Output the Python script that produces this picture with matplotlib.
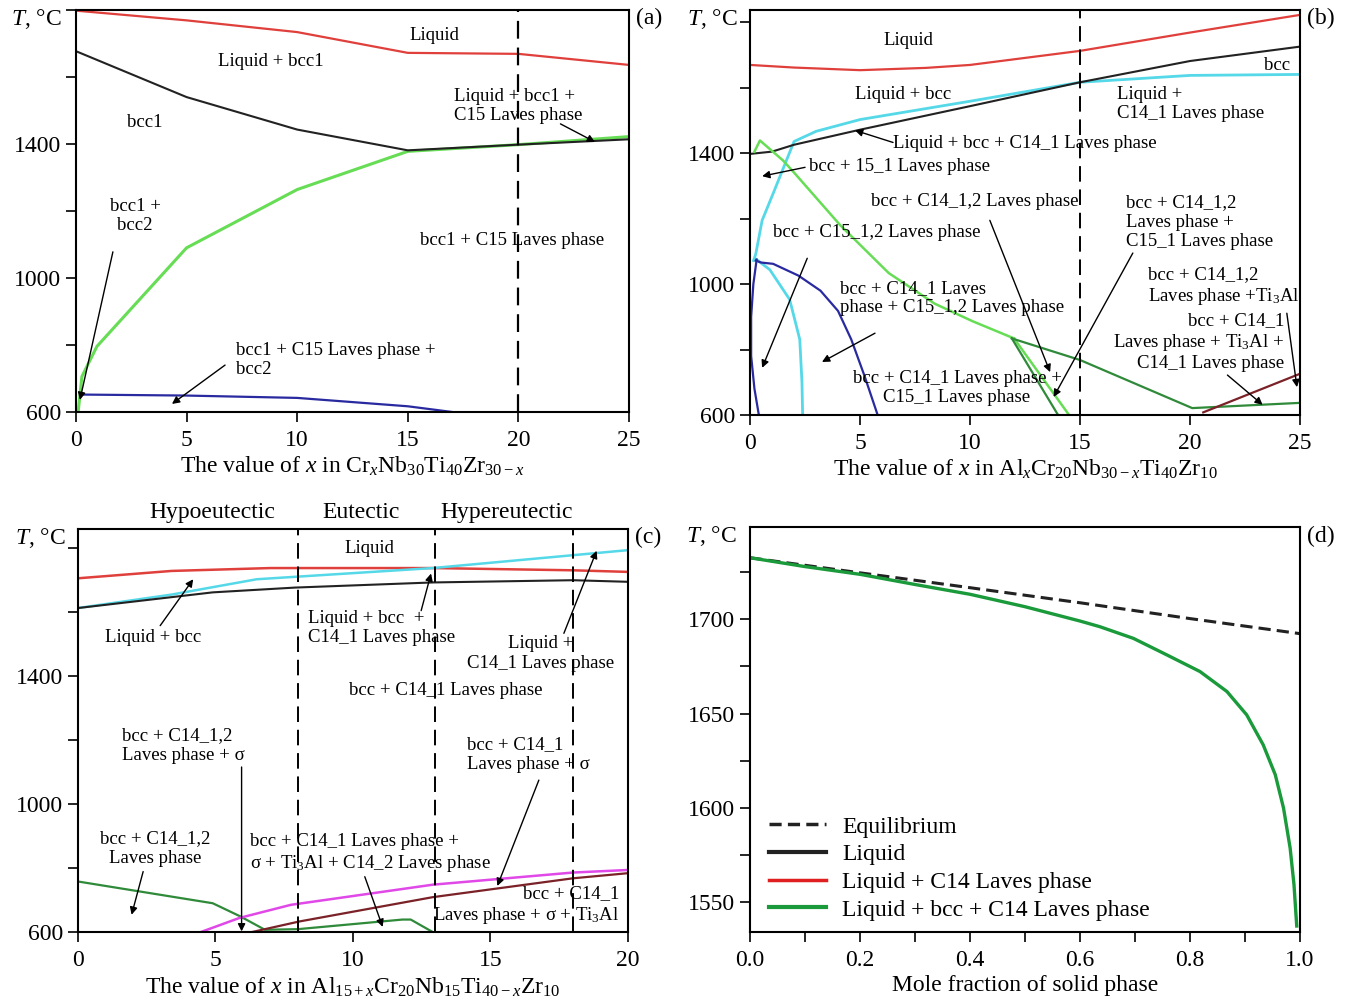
# Phase diagrams (a)-(c) and Scheil solidification (d)

import numpy as np
import matplotlib.pyplot as plt
from matplotlib.ticker import MultipleLocator, FuncFormatter
from matplotlib.lines import Line2D

plt.rcParams['font.family'] = 'Liberation Serif'
plt.rcParams['mathtext.fontset'] = 'custom'
plt.rcParams['mathtext.rm'] = 'Liberation Serif'
plt.rcParams['mathtext.it'] = 'Liberation Serif:italic'

# ---- datos (a): CrxNb30Ti40Zr30-x ----
a_red_x = [0, 5, 10, 15, 20, 25]
a_red_t = [1798, 1769, 1734, 1672, 1669, 1636]
a_black_x = [0, 5, 10, 15, 20, 25]
a_black_t = [1677, 1540, 1443, 1381, 1398, 1414]
a_green_x = [0.1, 0.27, 0.95, 5, 10, 15, 20, 25]
a_green_t = [600, 706, 796, 1090, 1264, 1378, 1398, 1422]
a_blue_x = [0.2, 5, 10, 15, 17]
a_blue_t = [652, 649, 642, 617, 600]

# ---- datos (b): AlxCr20Nb30-xTi40Zr10 ----
b_red_x = [0, 2, 5, 8, 10, 15, 20, 25]
b_red_t = [1670, 1662, 1654, 1661, 1670, 1713, 1769, 1823]
b_black_x = [0, 1, 2, 5, 10, 15, 20, 25]
b_black_t = [1398, 1405, 1426, 1472, 1544, 1617, 1682, 1726]
b_cyan1_x = [0.16, 0.26, 0.55, 1.05, 1.54, 2.0, 3, 5, 10, 15, 20, 25]
b_cyan1_t = [1072, 1092, 1195, 1277, 1359, 1436, 1467, 1503, 1559, 1617, 1638, 1641]
b_cyan2_x = [0.26, 0.9, 1.8, 2.26, 2.36, 2.39]
b_cyan2_t = [1077, 1044, 953, 831, 700, 600]
b_blue1_x = [0.3, 0.15, 0.05, 0.05, 0.2, 0.4]
b_blue1_t = [1075, 1000, 900, 780, 680, 600]
b_blue2_x = [0.26, 0.5, 1.05, 2.2, 3.2, 4.0, 4.6, 5.2, 5.8]
b_blue2_t = [1072, 1066, 1062, 1026, 980, 918, 831, 720, 600]
b_green_x = [0.2, 0.45, 1.5, 2.04, 4.1, 6.3, 8.4, 10.1, 12.0]
b_green_t = [1405, 1439, 1378, 1338, 1180, 1034, 940, 887, 834]
b_dgreen_x = [11.9, 15, 20.1, 25]
b_dgreen_t = [834, 768, 621, 637]
b_green2_x = [12.0, 14.5]
b_green2_t = [834, 600]
b_dgreen2_x = [11.9, 14.0]
b_dgreen2_t = [834, 600]
b_brown_x = [20.6, 25]
b_brown_t = [608, 726]

# ---- datos (c): Al15+xCr20Nb15Ti40-xZr10 ----
c_red_x = [0, 3.4, 7, 12.9, 18, 20]
c_red_t = [1706, 1729, 1738, 1738, 1731, 1726]
c_cyan_x = [0, 3.4, 6.5, 12.9, 20]
c_cyan_t = [1613, 1655, 1703, 1738, 1794]
c_black_x = [0, 4.9, 7.9, 12.9, 18, 20]
c_black_t = [1613, 1662, 1677, 1693, 1700, 1695]
c_green_x = [0, 4.9, 5.9, 6.8, 8.0, 11.8, 12.1, 12.9]
c_green_t = [758, 690, 649, 607, 609, 639, 639, 600]
c_magenta_x = [4.47, 5.87, 7.74, 12.9, 18, 20]
c_magenta_t = [600, 644, 685, 748, 786, 794]
c_brown_x = [6.33, 8.05, 12.9, 18, 20]
c_brown_t = [600, 633, 709, 768, 784]
c_lineas = [8, 13, 18]

# ---- datos (d): fraccion solida ----
d_frac = [0, 0.1, 0.2, 0.3, 0.4, 0.5, 0.6, 0.636, 0.697, 0.758, 0.818,
          0.867, 0.903, 0.933, 0.955, 0.970, 0.982, 0.989, 0.994]
d_scheil = [1732.7, 1728, 1723.9, 1718.5, 1713.3, 1706.7, 1699.1, 1696.1,
            1689.9, 1681.1, 1672.3, 1661.7, 1649.3, 1633.4, 1617.5, 1599.8,
            1578.6, 1559.2, 1537.2]
d_eq_frac = [0, 0.2, 0.4, 0.6, 0.8, 1.0]
d_eq = [1732.7, 1724.7, 1716.8, 1708.8, 1700.4, 1692.4]

ROJO = '#e0403c'
NEGRO = '#222222'
VERDE = '#66dd55'
VERDE_OSC = '#2f8a3a'
AZUL = '#2a2aa0'
CIAN = '#55d8e8'
MAGENTA = '#e048e8'
CAFE = '#7a2228'

FS_TXT = 13.5
FS_TICK = 17

fig = plt.figure(figsize=(13.49, 9.98), dpi=100)
ax_a = fig.add_axes([0.0563, 0.5872, 0.410, 0.4028])
ax_b = fig.add_axes([0.5560, 0.5842, 0.4077, 0.4058])
ax_c = fig.add_axes([0.0578, 0.0661, 0.4077, 0.4038])
ax_d = fig.add_axes([0.5560, 0.0661, 0.4077, 0.4058])


def estilo(ax, etiqueta, tx):
    for s in ax.spines.values():
        s.set_linewidth(1.5)
    ax.tick_params(direction='out', length=7, width=1.2, labelsize=FS_TICK,
                   top=False, right=False)
    ax.tick_params(axis='x', pad=6)
    ax.text(tx, 0.978, '$T$, °C', transform=ax.transAxes, ha='right',
            va='center', fontsize=FS_TICK)
    ax.text(1.037, 0.978, etiqueta, transform=ax.transAxes, ha='center',
            va='center', fontsize=FS_TICK)


def ejes_temp(ax):
    ax.yaxis.set_major_locator(MultipleLocator(200))
    ax.yaxis.set_major_formatter(FuncFormatter(
        lambda v, p: f'{v:.0f}' if round(v) in (600, 1000, 1400) else ''))
    ax.xaxis.set_major_locator(MultipleLocator(5))


def flecha(ax, cola, punta):
    ax.annotate('', xy=punta, xytext=cola,
                arrowprops=dict(arrowstyle='-|>', color='k', lw=1.0,
                                mutation_scale=11, shrinkA=0, shrinkB=0))


def texto(ax, x, y, s, ha='center'):
    ax.text(x, y, s, ha=ha, va='center', multialignment=ha,
            fontsize=FS_TXT)


# ---------------- (a) ----------------
ax = ax_a
ax.plot(a_red_x, a_red_t, color=ROJO, lw=1.6)
ax.plot(a_green_x, a_green_t, color=VERDE, lw=2.2)
ax.plot(a_black_x, a_black_t, color=NEGRO, lw=1.5)
ax.plot(a_blue_x, a_blue_t, color=AZUL, lw=1.6)
ax.axvline(20, color='k', ls=(0, (8, 4)), lw=1.6)
ax.set_xlim(0, 25)
ax.set_ylim(600, 1800)
ejes_temp(ax)
ax.set_xlabel('The value of $x$ in Cr$_x$Nb$_{30}$Ti$_{40}$Zr$_{30-x}$',
              fontsize=FS_TICK, labelpad=3)
estilo(ax, '(a)', -0.025)
texto(ax, 16.2, 1725, 'Liquid')
texto(ax, 8.8, 1645, 'Liquid + bcc1')
texto(ax, 3.1, 1463, 'bcc1')
texto(ax, 2.67, 1185, 'bcc1 +\nbcc2')
texto(ax, 17.1, 1513, 'Liquid + bcc1 +\nC15 Laves phase', ha='left')
texto(ax, 19.7, 1113, 'bcc1 + C15 Laves phase')
texto(ax, 7.23, 755, 'bcc1 + C15 Laves phase +\nbcc2', ha='left')
flecha(ax, (1.67, 1078), (0.18, 636))
flecha(ax, (6.74, 740), (4.34, 624))
flecha(ax, (21.9, 1460), (23.46, 1406))

# ---------------- (b) ----------------
ax = ax_b
ax.plot(b_red_x, b_red_t, color=ROJO, lw=1.6)
ax.plot(b_cyan1_x, b_cyan1_t, color=CIAN, lw=2.0)
ax.plot(b_cyan2_x, b_cyan2_t, color=CIAN, lw=2.0)
ax.plot(b_black_x, b_black_t, color=NEGRO, lw=1.5)
ax.plot(b_blue1_x, b_blue1_t, color=AZUL, lw=1.6)
ax.plot(b_blue2_x, b_blue2_t, color=AZUL, lw=1.6)
ax.plot(b_green_x, b_green_t, color=VERDE, lw=1.8)
ax.plot(b_green2_x, b_green2_t, color=VERDE, lw=1.8)
ax.plot(b_dgreen_x, b_dgreen_t, color=VERDE_OSC, lw=1.6)
ax.plot(b_dgreen2_x, b_dgreen2_t, color=VERDE_OSC, lw=1.6)
ax.plot(b_brown_x, b_brown_t, color=CAFE, lw=1.6)
ax.axvline(15, color='k', ls=(0, (8, 4)), lw=1.4)
ax.set_xlim(0, 25)
ax.set_ylim(600, 1838)
ejes_temp(ax)
ax.set_xlabel('The value of $x$ in Al$_x$Cr$_{20}$Nb$_{30-x}$Ti$_{40}$Zr$_{10}$',
              fontsize=FS_TICK, labelpad=3)
estilo(ax, '(b)', -0.022)
texto(ax, 7.2, 1745, 'Liquid')
texto(ax, 23.95, 1669, 'bcc')
texto(ax, 6.95, 1580, 'Liquid + bcc')
texto(ax, 16.7, 1550, 'Liquid +\nC14_1 Laves phase', ha='left')
texto(ax, 6.5, 1430, 'Liquid + bcc + C14_1 Laves phase', ha='left')
texto(ax, 2.68, 1360, 'bcc + 15_1 Laves phase', ha='left')
texto(ax, 5.5, 1253, 'bcc + C14_1,2 Laves phase', ha='left')
texto(ax, 1.05, 1159, 'bcc + C15_1,2 Laves phase', ha='left')
texto(ax, 4.1, 957, 'bcc + C14_1 Laves\nphase + C15_1,2 Laves phase', ha='left')
texto(ax, 9.41, 682, 'bcc + C14_1 Laves phase +\nC15_1 Laves phase')
texto(ax, 17.1, 1189, 'bcc + C14_1,2\nLaves phase +\nC15_1 Laves phase', ha='left')
texto(ax, 18.1, 992, 'bcc + C14_1,2\nLaves phase +Ti$_3$Al', ha='left')
texto(ax, 24.27, 823, 'bcc + C14_1\nLaves phase + Ti$_3$Al +\nC14_1 Laves phase',
      ha='right')
flecha(ax, (6.5, 1433), (4.77, 1470))
flecha(ax, (2.5, 1357), (0.55, 1330))
flecha(ax, (10.9, 1195), (13.64, 731))
flecha(ax, (2.6, 1079), (0.55, 744))
flecha(ax, (5.68, 850), (3.27, 762))
flecha(ax, (17.4, 1095), (13.8, 655))
flecha(ax, (24.4, 911), (24.86, 685))
flecha(ax, (21.7, 722), (23.3, 631))

# ---------------- (c) ----------------
ax = ax_c
ax.plot(c_red_x, c_red_t, color=ROJO, lw=1.8)
ax.plot(c_cyan_x, c_cyan_t, color=CIAN, lw=1.8)
ax.plot(c_black_x, c_black_t, color=NEGRO, lw=1.5)
ax.plot(c_green_x, c_green_t, color=VERDE_OSC, lw=1.6)
ax.plot(c_magenta_x, c_magenta_t, color=MAGENTA, lw=1.8)
ax.plot(c_brown_x, c_brown_t, color=CAFE, lw=1.6)
for xv in c_lineas:
    ax.axvline(xv, color='k', ls=(0, (8, 4)), lw=1.4)
ax.set_xlim(0, 20)
ax.set_ylim(600, 1860)
ejes_temp(ax)
ax.set_xlabel('The value of $x$ in Al$_{15+x}$Cr$_{20}$Nb$_{15}$Ti$_{40-x}$Zr$_{10}$',
              fontsize=FS_TICK, labelpad=3)
estilo(ax, '(c)', -0.022)
for xv, s in zip([4.9, 10.3, 15.6], ['Hypoeutectic', 'Eutectic', 'Hypereutectic']):
    ax.text(xv, 1912, s, ha='center', va='center', fontsize=FS_TICK,
            clip_on=False)
texto(ax, 10.6, 1800, 'Liquid')
texto(ax, 2.73, 1522, 'Liquid + bcc')
texto(ax, 8.36, 1551, 'Liquid + bcc  +\nC14_1 Laves phase', ha='left')
texto(ax, 16.84, 1470, 'Liquid +\nC14_1 Laves phase')
texto(ax, 13.38, 1355, 'bcc + C14_1 Laves phase')
texto(ax, 1.59, 1184, 'bcc + C14_1,2\nLaves phase + σ', ha='left')
texto(ax, 14.16, 1156, 'bcc + C14_1\nLaves phase + σ', ha='left')
texto(ax, 2.8, 862, 'bcc + C14_1,2\nLaves phase')
texto(ax, 6.26, 846, 'bcc + C14_1 Laves phase +\nσ + Ti$_3$Al + C14_2 Laves phase',
      ha='left')
texto(ax, 19.67, 684, 'bcc + C14_1\nLaves phase + σ + Ti$_3$Al', ha='right')
flecha(ax, (2.99, 1558), (4.19, 1703))
flecha(ax, (12.48, 1605), (12.84, 1721))
flecha(ax, (17.67, 1534), (18.86, 1792))
flecha(ax, (5.95, 1116), (5.95, 602))
flecha(ax, (16.76, 1075), (15.25, 744))
flecha(ax, (2.37, 789), (1.95, 654))
flecha(ax, (10.43, 773), (11.08, 616))

# ---------------- (d) ----------------
ax = ax_d
ax.plot(d_eq_frac, d_eq, color=NEGRO, ls=(0, (4, 2)), lw=2.2)
ax.plot(d_frac, d_scheil, color='#1a9a3a', lw=2.4)
ax.set_xlim(0, 1)
ax.set_ylim(1534, 1749)
ax.xaxis.set_major_locator(MultipleLocator(0.1))
ax.xaxis.set_major_formatter(FuncFormatter(
    lambda v, p: f'{v:.1f}' if round(v * 10) % 2 == 0 else ''))
ax.yaxis.set_major_locator(MultipleLocator(25))
ax.yaxis.set_major_formatter(FuncFormatter(
    lambda v, p: f'{v:.0f}' if round(v) % 50 == 0 else ''))
ax.set_xlabel('Mole fraction of solid phase', fontsize=FS_TICK, labelpad=3)
estilo(ax, '(d)', -0.024)
manejadores = [
    Line2D([], [], color=NEGRO, ls=(0, (3.5, 1.8)), lw=2.5),
    Line2D([], [], color=NEGRO, lw=3),
    Line2D([], [], color='#e02020', lw=2.5),
    Line2D([], [], color='#1a9a3a', lw=3),
]
ax.legend(manejadores, ['Equilibrium', 'Liquid', 'Liquid + C14 Laves phase',
                        'Liquid + bcc + C14 Laves phase'],
          loc='lower left', bbox_to_anchor=(0.035, 0.028), frameon=False,
          fontsize=FS_TICK, handlelength=2.4, handletextpad=0.7,
          labelspacing=0.26, borderpad=0, borderaxespad=0)

plt.savefig('out.png', dpi=100)
